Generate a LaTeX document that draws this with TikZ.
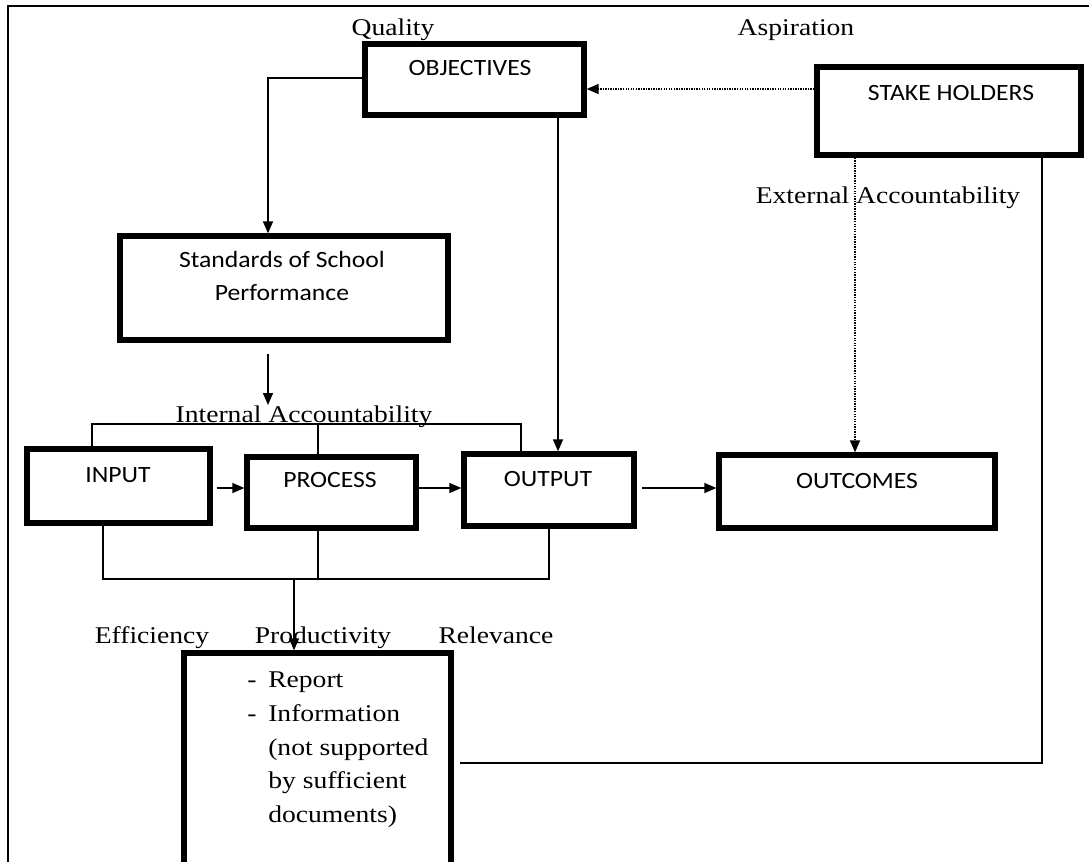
\documentclass[tikz,border=0pt]{standalone}
\usepackage{fontspec}
\setmainfont{Liberation Serif}[FakeStretch=1.15]
\newfontfamily\boxfont{Carlito}[FakeStretch=1.1]
\usetikzlibrary{arrows.meta,fit,calc}
\begin{document}
\begin{tikzpicture}[x=0.75pt,y=-0.75pt,
  box/.style={draw, line width=4pt, inner sep=0pt},
  conn/.style={line width=1.1pt},
  arr/.style={conn, -{Triangle[length=9pt,width=7.5pt]}},
  dotline/.style={line width=1.1pt, dash pattern=on 1pt off 0.9pt},
  dotarr/.style={dotline, -{Triangle[length=9pt,width=7.5pt]}},
  sanslbl/.style={font=\boxfont\fontsize{17.5pt}{21pt}\selectfont, inner sep=0pt, anchor=base},
  seriflbl/.style={font=\fontsize{18pt}{22pt}\selectfont, inner sep=0pt, anchor=base},
  reptxt/.style={font=\fontsize{18pt}{22pt}\selectfont, inner sep=0pt, anchor=base west},
]
\useasboundingbox (0,0) rectangle (1089,861);
\clip (0,0) rectangle (1089,861);

% outer frame
\draw[line width=1.2pt] (8,880) -- (8,6) -- (1100,6);

% helper coordinates
\coordinate (r78) at (0,78);
\coordinate (r89) at (0,89);
\coordinate (r488) at (0,488);
\coordinate (r763) at (0,763);
\coordinate (c268) at (268,0);
\coordinate (c92) at (92,0);
\coordinate (c318) at (318,0);
\coordinate (c521) at (521,0);
\coordinate (c558) at (558,0);
\coordinate (c855) at (855,0);
\coordinate (c103) at (103,0);
\coordinate (c549) at (549,0);
\coordinate (c294) at (294,0);
\coordinate (c1042) at (1042,0);
\coordinate (ibr) at (521,424);
\coordinate (bbr) at (549,579);
\coordinate (iatip) at (268,405);

% boxes
\node[box, fit={(365,44) (584,115)}] (obj) {};
\node[box, fit={(817,67) (1081,155)}] (stake) {};
\node[box, fit={(120,236) (448,340)}] (std) {};
\node[box, fit={(27,449) (210,523)}] (input) {};
\node[box, fit={(247,457) (416,528)}] (process) {};
\node[box, fit={(464,454) (634,526)}] (output) {};
\node[box, fit={(719,455) (995,528)}] (outcomes) {};
\node[box, fit={(184,653) (451,900)}] (report) {};

% box texts
\node[sanslbl] (objt) at (470,75) {OBJECTIVES};
\node[sanslbl] (staket) at (951,100) {STAKE HOLDERS};
\node[sanslbl] (stdt1) at (282,267) {Standards of School};
\node[sanslbl] (stdt2) at (282,300) {Performance};
\node[sanslbl] (inputt) at (118,482) {INPUT};
\node[sanslbl] (processt) at (330,487) {PROCESS};
\node[sanslbl] (outputt) at (548,486) {OUTPUT};
\node[sanslbl] (outcomest) at (857,488) {OUTCOMES};

% report text
\node[reptxt] (d1) at (247,687) {-};
\node[reptxt] (rep1) at (268,687) {Report};
\node[reptxt] (d2) at (247,721) {-};
\node[reptxt] (rep2) at (268,721) {Information};
\node[reptxt] (rep3) at (268,755) {(not supported};
\node[reptxt] (rep4) at (268,788) {by sufficient};
\node[reptxt] (rep5) at (268,822) {documents)};

% labels
\node[seriflbl] (quality) at (393,35) {Quality};
\node[seriflbl] (aspir) at (796,35) {Aspiration};
\node[seriflbl] (extacc) at (888,203) {External Accountability};
\node[seriflbl] (intacc) at (304,422) {Internal Accountability};
\node[seriflbl] (eff) at (152,643) {Efficiency};
\node[seriflbl] (prod) at (323,643) {Productivity};
\node[seriflbl] (rel) at (496,643) {Relevance};

% connectors
\draw[dotarr] (stake.west |- r89) -- (obj.east |- r89);
\draw[arr] (obj.west |- r78) -| (std.north -| c268);
\draw[arr] ($(std.south -| c268)+(0,11)$) -- (iatip);
\draw[conn] (input.north -| c92) |- (ibr) -- (output.north -| c521);
\draw[conn] (ibr -| c318) -- (process.north -| c318);
\draw[arr] (obj.south -| c558) -- (output.north -| c558);
\draw[dotarr] (stake.south -| c855) -- (outcomes.north -| c855);
\draw[arr, shorten <=3pt] (input.east |- r488) -- (process.west |- r488);
\draw[arr] (process.east |- r488) -- (output.west |- r488);
\draw[arr, shorten <=4pt] (output.east |- r488) -- (outcomes.west |- r488);
\draw[conn] (input.south -| c103) |- (bbr) -- (output.south -| c549);
\draw[conn] (process.south -| c318) -- (bbr -| c318);
\draw[arr] (bbr -| c294) -- (report.north -| c294);
\draw[conn, shorten >=5pt] (stake.south -| c1042) |- (report.east |- r763);
\end{tikzpicture}
\end{document}
